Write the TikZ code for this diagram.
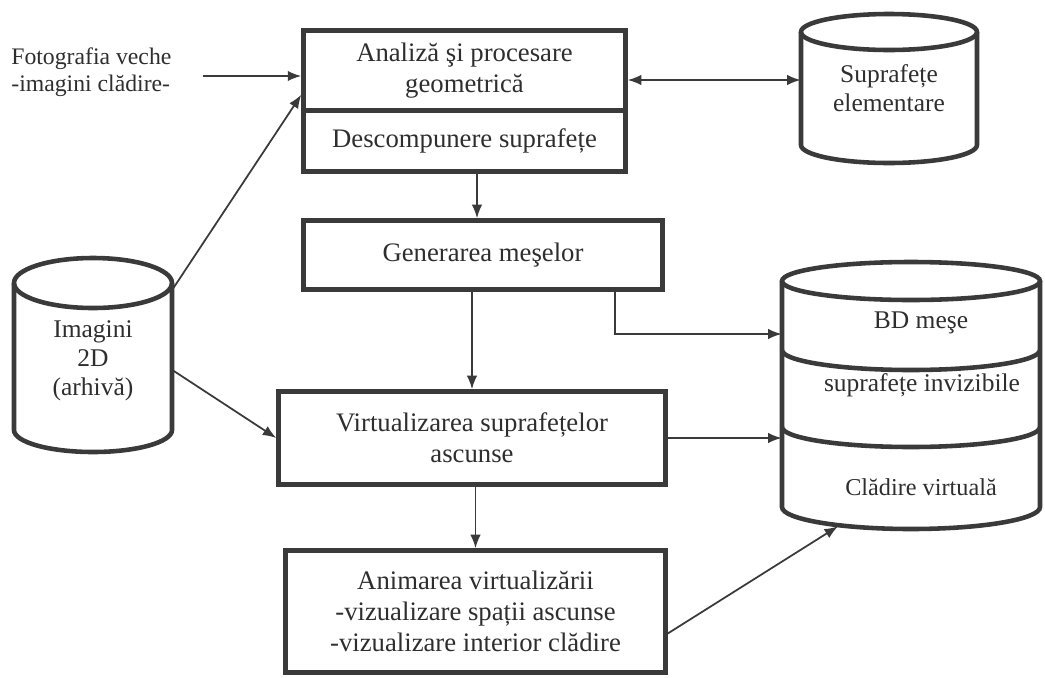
\documentclass[tikz,border=0pt]{standalone}
\usepackage{fontspec}
\setmainfont{Liberation Serif}
\usetikzlibrary{arrows.meta, positioning}

\definecolor{ink}{HTML}{3A3A3A}
\definecolor{txt}{HTML}{2E2E2E}

\tikzset{
  block/.style={draw=ink, line width=2.6pt, align=center, text=txt, inner sep=0pt,
    font=\fontsize{15.2}{17.5}\selectfont},
  drum/.style={inner sep=0pt, align=center, text=txt, font=\fontsize{14.5}{16.5}\selectfont},
  wall/.style={draw=ink, line width=2.6pt},
  conn/.style={draw=ink, line width=1pt, -{Latex[length=0.27cm,width=0.21cm]}},
  bothconn/.style={draw=ink, line width=1pt, {Latex[length=0.27cm,width=0.21cm]}-{Latex[length=0.27cm,width=0.21cm]}}
}

\begin{document}
\begin{tikzpicture}[x=0.02cm, y=-0.02cm]
\useasboundingbox (0,0) rectangle (1045,677);

% processing blocks
\node[block, minimum width=6.44cm, minimum height=1.6cm] (analiza) at (464.5,70.5) {Analiză şi procesare\\geometrică};
\node[block, minimum width=6.44cm, minimum height=1.22cm] (descomp) at (464.5,141) {Descompunere suprafețe};
\node[block, minimum width=7.18cm, minimum height=1.38cm] (gen) at (483,255) {Generarea meşelor};
\node[block, minimum width=7.74cm, minimum height=1.86cm] (virt) at (472,438) {Virtualizarea suprafețelor\\ascunse};
\node[block, minimum width=7.6cm, minimum height=2.44cm] (anim) at (475.5,611.5) {Animarea virtualizării\\-vizualizare spații ascunse\\-vizualizare interior clădire};

% input text
\node[anchor=west, align=left, inner sep=0pt, text=txt, font=\fontsize{13.5}{15.5}\selectfont] (foto) at (11,72) {Fotografia veche\\-imagini clădire-};

% cylinders
\draw[wall] (889,32) ellipse (88 and 18);
\draw[wall] (801,32) -- (801,145) arc (180:0:88 and 18) -- (977,32);
\node[drum, minimum width=3.52cm, minimum height=3cm] (supraf) at (889,88) {Suprafețe\\elementare};

\draw[wall] (93,283) ellipse (79 and 25);
\draw[wall] (14,283) -- (14,430) arc (180:0:79 and 22) -- (172,283);
\node[drum, minimum width=3.16cm, minimum height=3.84cm] (img) at (93,361) {Imagini\\2D\\(arhivă)};

\draw[wall] (911,281) ellipse (129 and 19);
\draw[wall] (782,281) -- (782,507) arc (180:0:129 and 22) -- (1040,281);
\draw[wall] (782,350) arc (180:0:129 and 20);
\draw[wall] (782,427) arc (180:0:129 and 20);
\node[minimum width=5.16cm, minimum height=5.36cm, inner sep=0pt] (bd) at (911,396) {};
\node[drum] (bdtxt) at (921,323) {BD meşe};
\node[drum] (invtxt) at (922,385) {suprafețe invizibile};
\node[drum, font=\fontsize{13.8}{16}\selectfont] (cladtxt) at (921,487) {Clădire virtuală};

% connectors
\draw[conn] ([xshift=0.62cm,yshift=-0.08cm]foto.east) -- ([yshift=-0.08cm]foto.east -| analiza.west);
\draw[bothconn] ([yshift=-0.19cm]analiza.east) -- ([yshift=-0.19cm]analiza.east -| supraf.west);
\draw[conn] ([xshift=0.25cm]descomp.south) -- ([xshift=0.25cm]descomp.south |- gen.north);
\draw[conn] (virt.north |- gen.south) -- (virt.north);
\draw[conn] ([xshift=2.64cm]gen.south) |- (bd.west |- 0,334);
\draw[conn] (virt.east) -- (virt.east -| bd.west);
\draw[conn] ([yshift=-0.5cm]img.north east) -- ([yshift=0.36cm]analiza.south west);
\draw[conn] ([yshift=-0.18cm]img.east) -- (virt.west);
\draw[conn] (anim.north |- virt.south) -- (anim.north);
\draw[conn] ([yshift=-0.44cm]anim.east) -- ([xshift=-1.46cm,yshift=0.08cm]bd.south);
\end{tikzpicture}
\end{document}
